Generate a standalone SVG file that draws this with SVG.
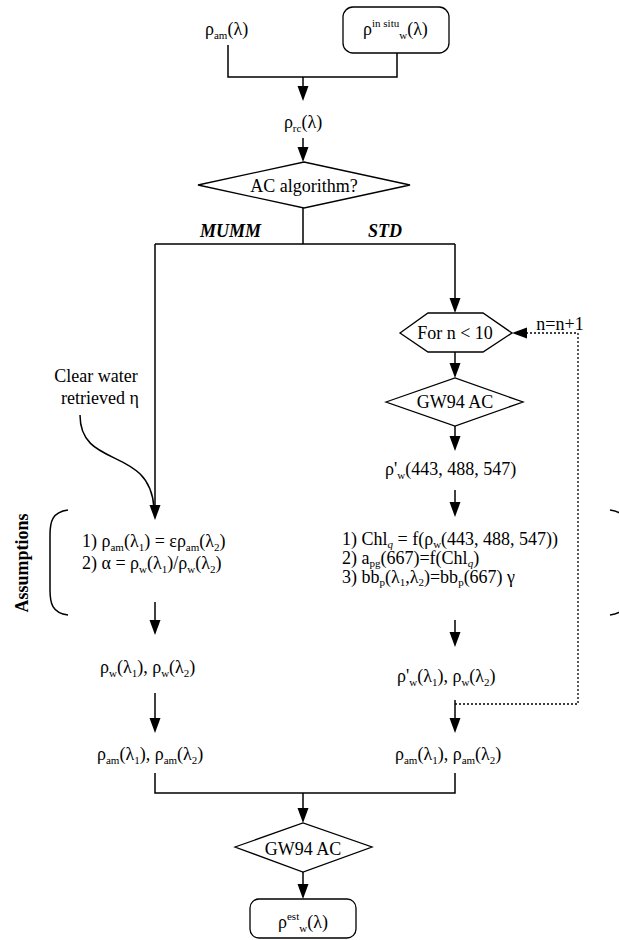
<svg xmlns="http://www.w3.org/2000/svg" width="619" height="940" viewBox="0 0 619 940" font-family="'Liberation Serif','Times New Roman',serif">
<style>
text{font-family:'Liberation Serif','Times New Roman',serif;font-size:18px;fill:#000}
.s{font-size:11px}
.c{text-anchor:middle}
.b{font-weight:bold;font-style:italic}
.ln{fill:none;stroke:#000;stroke-width:1.5}
.dt{fill:none;stroke:#000;stroke-width:1.3;stroke-dasharray:2,2}
.sh{fill:#fff;stroke:#000;stroke-width:1.3}
</style>
<defs>
<path id="ad" d="M-5.5,-15 L5.5,-15 L0,0 Z" fill="#000"/>
<path id="alft" d="M0,0 L15,-5.5 L15,5.5 Z" fill="#000"/>
</defs>
<rect width="619" height="940" fill="#fff"/>
<g id="connectors">
<path class="ln" d="M228,45 V77 H397 V53"/>
<path class="ln" d="M303,77 V90"/><use href="#ad" x="303" y="101"/>
<path class="ln" d="M303,138 V150"/><use href="#ad" x="303" y="162"/>
<path class="ln" d="M303,208 V244 M155,244 H455"/>
<path class="ln" d="M455,244 V300"/><use href="#ad" x="455" y="313"/>
<path class="ln" d="M155,244 V510"/><use href="#ad" x="155" y="520"/>
<path class="ln" d="M80,415 C80,470 150,445 154,508"/>
<path class="ln" d="M455,352 V366"/><use href="#ad" x="455" y="378"/>
<path class="ln" d="M455,426 V440"/><use href="#ad" x="455" y="451"/>
<path class="ln" d="M455,490 V505"/><use href="#ad" x="455" y="517"/>
<path class="ln" d="M155,602 V622"/><use href="#ad" x="155" y="635"/>
<path class="ln" d="M455,620 V635"/><use href="#ad" x="455" y="647"/>
<path class="ln" d="M155,693 V720"/><use href="#ad" x="155" y="733"/>
<path class="ln" d="M455,700 V720"/><use href="#ad" x="455" y="733"/>
<path class="dt" d="M455,704 H578 V333 H525"/>
<use href="#alft" x="512" y="333"/>
<path class="ln" d="M155,773 V793 H455 V773"/>
<path class="ln" d="M303,793 V810"/><use href="#ad" x="303" y="823"/>
<path class="ln" d="M303,872 V886"/><use href="#ad" x="303" y="899"/>
<path class="ln" d="M68,510 C52,512 50,522 50,535 V590 C50,603 52,613 68,615" stroke-width="1.2"/>
<path class="ln" d="M610,510 C626,512 628,522 628,535 V590 C628,603 626,613 610,615" stroke-width="1.2"/>
</g>
<g id="n_pam">
<text x="205" y="35">ρ<tspan class="s" dy="4">am</tspan><tspan dy="-4">(λ)</tspan></text>
</g>
<g id="n_insitu">
<rect class="sh" x="343" y="7" width="106" height="46" rx="10"/>
<text x="363" y="35">ρ<tspan class="s" dy="-8">in situ</tspan><tspan class="s" dy="12">w</tspan><tspan dy="-4">(λ)</tspan></text>
</g>
<g id="n_prc">
<text x="303" y="128" class="c">ρ<tspan class="s" dy="4">rc</tspan><tspan dy="-4">(λ)</tspan></text>
</g>
<g id="n_acalg">
<path class="sh" d="M198,185 L304,162 L410,185 L304,208 Z"/>
<text x="304" y="192" class="c">AC algorithm?</text>
</g>
<g id="labels">
<text x="200" y="237" class="b">MUMM</text>
<text x="368" y="237" class="b">STD</text>
<text x="560" y="330" class="c">n=n+1</text>
<text x="96" y="382" class="c">Clear water</text>
<text x="100" y="404" class="c">retrieved η</text>
<text transform="translate(28,563) rotate(-90)" class="c" style="font-weight:bold">Assumptions</text>
</g>
<g id="n_for">
<path class="sh" d="M400,333 L428,313 L483,313 L512,333 L483,352 L428,352 Z"/>
<text x="455" y="339" class="c">For n &lt; 10</text>
</g>
<g id="n_gw1">
<path class="sh" d="M386,402 L455,378 L523,402 L455,426 Z"/>
<text x="455" y="408" class="c">GW94 AC</text>
</g>
<g id="n_pw443">
<text x="385" y="475">ρ'<tspan class="s" dy="4">w</tspan><tspan dy="-4">(443, 488, 547)</tspan></text>
</g>
<g id="n_std_assum">
<text x="342" y="545">1) Chl<tspan class="s" dy="3" font-style="italic">q</tspan><tspan dy="-3"> = f(ρ</tspan><tspan class="s" dy="3">w</tspan><tspan dy="-3">(443, 488, 547))</tspan></text>
<text x="342" y="564">2) a<tspan class="s" dy="3">pg</tspan><tspan dy="-3">(667)=f(Chl</tspan><tspan class="s" dy="3" font-style="italic">q</tspan><tspan dy="-3">)</tspan></text>
<text x="342" y="583">3) bb<tspan class="s" dy="3">p</tspan><tspan dy="-3">(λ</tspan><tspan class="s" dy="3">1</tspan><tspan dy="-3">,λ</tspan><tspan class="s" dy="3">2</tspan><tspan dy="-3">)=bb</tspan><tspan class="s" dy="3">p</tspan><tspan dy="-3">(667) γ</tspan></text>
</g>
<g id="n_mumm_assum">
<text x="82" y="547">1) ρ<tspan class="s" dy="4">am</tspan><tspan dy="-4">(λ</tspan><tspan class="s" dy="4">1</tspan><tspan dy="-4">) = ερ</tspan><tspan class="s" dy="4">am</tspan><tspan dy="-4">(λ</tspan><tspan class="s" dy="4">2</tspan><tspan dy="-4">)</tspan></text>
<text x="82" y="569">2) α = ρ<tspan class="s" dy="4">w</tspan><tspan dy="-4">(λ</tspan><tspan class="s" dy="4">1</tspan><tspan dy="-4">)/ρ</tspan><tspan class="s" dy="4">w</tspan><tspan dy="-4">(λ</tspan><tspan class="s" dy="4">2</tspan><tspan dy="-4">)</tspan></text>
</g>
<g id="n_pw_left">
<text x="100" y="673">ρ<tspan class="s" dy="4">w</tspan><tspan dy="-4">(λ</tspan><tspan class="s" dy="4">1</tspan><tspan dy="-4">), ρ</tspan><tspan class="s" dy="4">w</tspan><tspan dy="-4">(λ</tspan><tspan class="s" dy="4">2</tspan><tspan dy="-4">)</tspan></text>
</g>
<g id="n_pw_right">
<text x="397" y="682">ρ'<tspan class="s" dy="4">w</tspan><tspan dy="-4">(λ</tspan><tspan class="s" dy="4">1</tspan><tspan dy="-4">), ρ</tspan><tspan class="s" dy="4">w</tspan><tspan dy="-4">(λ</tspan><tspan class="s" dy="4">2</tspan><tspan dy="-4">)</tspan></text>
</g>
<g id="n_pam_left">
<text x="97" y="760">ρ<tspan class="s" dy="4">am</tspan><tspan dy="-4">(λ</tspan><tspan class="s" dy="4">1</tspan><tspan dy="-4">), ρ</tspan><tspan class="s" dy="4">am</tspan><tspan dy="-4">(λ</tspan><tspan class="s" dy="4">2</tspan><tspan dy="-4">)</tspan></text>
</g>
<g id="n_pam_right">
<text x="395" y="760">ρ<tspan class="s" dy="4">am</tspan><tspan dy="-4">(λ</tspan><tspan class="s" dy="4">1</tspan><tspan dy="-4">), ρ</tspan><tspan class="s" dy="4">am</tspan><tspan dy="-4">(λ</tspan><tspan class="s" dy="4">2</tspan><tspan dy="-4">)</tspan></text>
</g>
<g id="n_gw2">
<path class="sh" d="M235,847 L303,823 L372,847 L303,872 Z"/>
<text x="303" y="855" class="c">GW94 AC</text>
</g>
<g id="n_est">
<rect class="sh" x="250" y="899" width="106" height="39" rx="9"/>
<text x="278" y="928">ρ<tspan class="s" dy="-8">est</tspan><tspan class="s" dy="12">w</tspan><tspan dy="-4">(λ)</tspan></text>
</g>
</svg>
